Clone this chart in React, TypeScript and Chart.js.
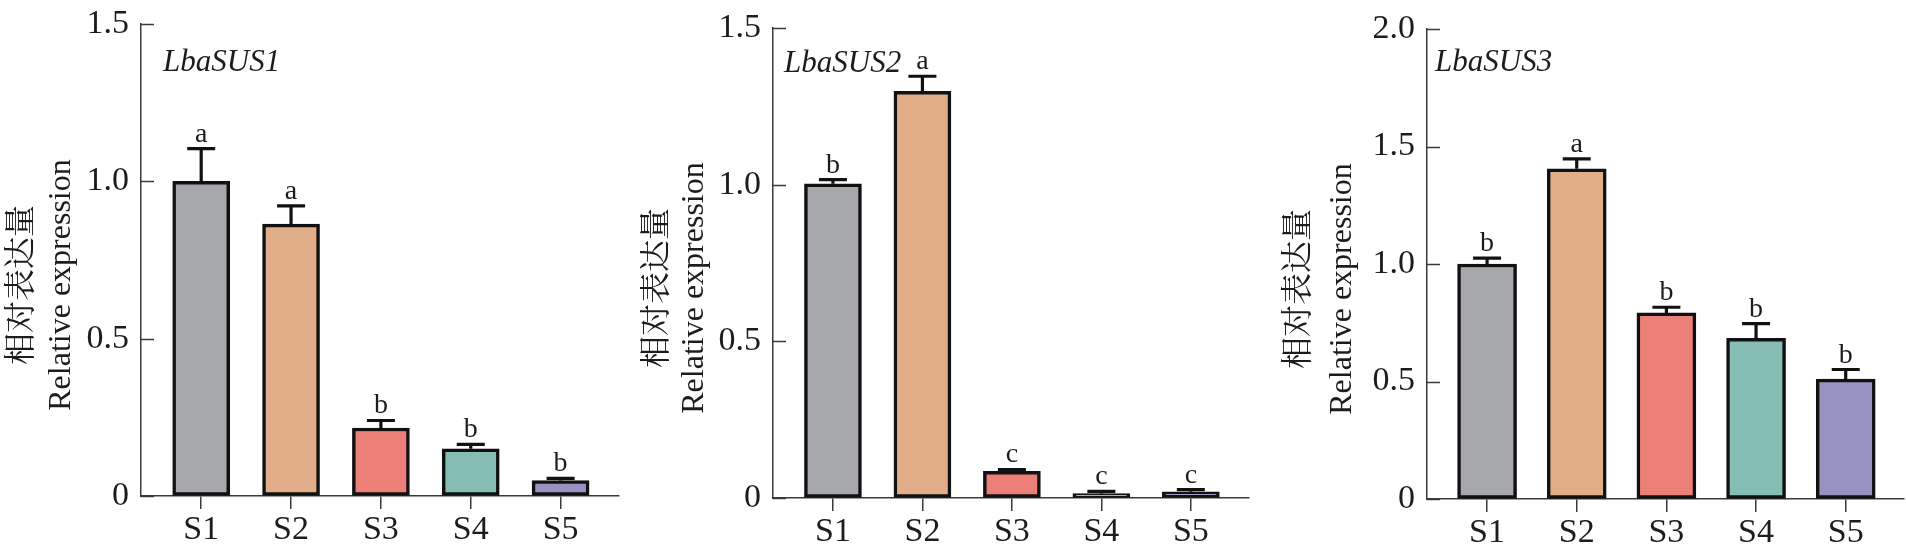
import { useEffect, useRef } from 'react';
import Chart from 'chart.js/auto';

// sample groups on the x axis
const CATEGORIES: string[] = ['S1', 'S2', 'S3', 'S4', 'S5'];
const BAR_COLORS: string[] = ['#a7a8ac', '#e2ae8a', '#ec8079', '#85bdb5', '#9892c1'];

// LbaSUS1
const SUS1_MEAN: number[] = [1.0, 0.864, 0.216, 0.15, 0.049];
const SUS1_ERR: number[] = [0.104, 0.058, 0.024, 0.014, 0.007];
const SUS1_SIG: string[] = ['a', 'a', 'b', 'b', 'b'];
const SUS1_TICKS: number[] = [0, 0.5, 1.0, 1.5];

// LbaSUS2
const SUS2_MEAN: number[] = [1.003, 1.298, 0.085, 0.014, 0.02];
const SUS2_ERR: number[] = [0.013, 0.048, 0.006, 0.007, 0.007];
const SUS2_SIG: string[] = ['b', 'a', 'c', 'c', 'c'];
const SUS2_TICKS: number[] = [0, 0.5, 1.0, 1.5];

// LbaSUS3
const SUS3_MEAN: number[] = [1.0, 1.405, 0.792, 0.684, 0.51];
const SUS3_ERR: number[] = [0.025, 0.042, 0.024, 0.062, 0.041];
const SUS3_SIG: string[] = ['b', 'a', 'b', 'b', 'b'];
const SUS3_TICKS: number[] = [0, 0.5, 1.0, 1.5, 2.0];

const Y_TITLE_CN = '相对表达量';
const Y_TITLE_EN = 'Relative expression';

const INK = '#111111';
const AXIS = '#3a3a3a';
const TEXT = '#1c1c1c';
const SERIF = '"Liberation Serif", "Times New Roman", serif';
const CJK = '"Liberation Serif", "Noto Serif CJK SC", "Noto Sans CJK SC", serif';

// where each panel sits, in its own canvas coordinates
interface PanelBox {
  left: number;
  width: number;
  height: number;
  axisX: number;
  endX: number;
  top: number;
  zero: number;
  barW: number;
  titleX: number;
  titleY: number;
  cnX: number;
  enX: number;
  labelCy: number;
}

interface PanelProps {
  gene: string;
  means: number[];
  errs: number[];
  sig: string[];
  yTicks: number[];
  box: PanelBox;
}

function BarPanel({ gene, means, errs, sig, yTicks, box }: PanelProps) {
  const canvasRef = useRef<HTMLCanvasElement>(null);

  useEffect(() => {
    if (!canvasRef.current) return;

    // error bars, letters, inward y ticks, gene name and axis titles
    const decor = {
      id: 'decor',
      afterDraw(chart: Chart) {
        const { ctx, chartArea } = chart;
        const xs = chart.scales.x;
        const ys = chart.scales.y;
        ctx.save();

        ctx.strokeStyle = AXIS;
        ctx.lineWidth = 1.5;
        yTicks.forEach((v) => {
          const py = Math.round(ys.getPixelForValue(v)) + 0.5;
          ctx.beginPath();
          ctx.moveTo(chartArea.left, py);
          ctx.lineTo(chartArea.left + 13, py);
          ctx.stroke();
        });

        ctx.strokeStyle = INK;
        ctx.lineWidth = 3.2;
        ctx.fillStyle = TEXT;
        ctx.font = `28px ${SERIF}`;
        ctx.textAlign = 'center';
        ctx.textBaseline = 'alphabetic';
        means.forEach((m, i) => {
          const px = xs.getPixelForValue(i);
          const top = ys.getPixelForValue(m);
          const hi = ys.getPixelForValue(m + errs[i]);
          ctx.beginPath();
          ctx.moveTo(px, top);
          ctx.lineTo(px, hi);
          ctx.moveTo(px - 14, hi);
          ctx.lineTo(px + 14, hi);
          ctx.stroke();
          ctx.fillText(sig[i], px, hi - 7);
        });

        ctx.font = `italic 31px ${SERIF}`;
        ctx.textAlign = 'left';
        ctx.fillText(gene, box.titleX, box.titleY);

        ctx.textAlign = 'center';
        ctx.textBaseline = 'middle';
        ctx.save();
        ctx.translate(box.cnX, box.labelCy);
        ctx.rotate(-Math.PI / 2);
        ctx.font = `32px ${CJK}`;
        ctx.fillText(Y_TITLE_CN, 0, 0);
        ctx.restore();
        ctx.save();
        ctx.translate(box.enX, box.labelCy);
        ctx.rotate(-Math.PI / 2);
        ctx.font = `32px ${SERIF}`;
        ctx.fillText(Y_TITLE_EN, 0, 0);
        ctx.restore();

        ctx.restore();
      },
    };

    const chart = new Chart(canvasRef.current, {
      type: 'bar',
      data: {
        datasets: [
          {
            data: means.map((m, i) => ({ x: i, y: m })),
            backgroundColor: BAR_COLORS,
            borderColor: INK,
            borderWidth: 3.5,
            borderSkipped: false,
            barThickness: box.barW,
          },
        ],
      },
      options: {
        animation: false,
        responsive: false,
        layout: { padding: { top: box.top, right: box.width - box.endX, bottom: 0, left: 0 } },
        plugins: { legend: { display: false }, tooltip: { enabled: false } },
        scales: {
          x: {
            type: 'linear',
            offset: false,
            min: -0.67,
            max: 4.65,
            afterBuildTicks: (s: any) => {
              s.ticks = CATEGORIES.map((_, i) => ({ value: i }));
            },
            afterFit: (s: any) => {
              s.height = box.height - box.zero;
              s.paddingLeft = 0;
              s.paddingRight = 0;
            },
            ticks: {
              callback: (v: any) => CATEGORIES[v as number] ?? '',
              font: { family: SERIF, size: 34 },
              color: TEXT,
              padding: 1,
              autoSkip: false,
              maxRotation: 0,
            },
            grid: { offset: false, drawOnChartArea: false, drawTicks: true, tickLength: 13, color: AXIS, lineWidth: 1.5 },
            border: { display: true, color: AXIS, width: 1.5 },
          },
          y: {
            min: 0,
            max: yTicks[yTicks.length - 1],
            afterBuildTicks: (s: any) => {
              s.ticks = yTicks.map((v) => ({ value: v }));
            },
            afterFit: (s: any) => {
              s.width = box.axisX;
              s.paddingTop = 0;
              s.paddingBottom = 0;
            },
            ticks: {
              callback: (v: any) => (v === 0 ? '0' : Number(v).toFixed(1)),
              font: { family: SERIF, size: 34 },
              color: TEXT,
              padding: 12,
            },
            grid: { drawOnChartArea: false, drawTicks: false },
            border: { display: true, color: AXIS, width: 1.5 },
          },
        },
      },
      plugins: [decor],
    });

    return () => {
      chart.destroy();
    };
  }, [gene, means, errs, sig, yTicks, box]);

  return (
    <canvas
      ref={canvasRef}
      width={box.width}
      height={box.height}
      style={{ position: 'absolute', left: box.left, top: 0, width: box.width, height: box.height }}
    />
  );
}

const BOX1: PanelBox = {
  left: 0, width: 640, height: 557, axisX: 141, endX: 619, top: 24, zero: 496, barW: 57,
  titleX: 163, titleY: 71, cnX: 23, enX: 62, labelCy: 285,
};
const BOX2: PanelBox = {
  left: 640, width: 640, height: 557, axisX: 133, endX: 609, top: 28, zero: 498, barW: 57,
  titleX: 144, titleY: 72, cnX: 18, enX: 55, labelCy: 288,
};
const BOX3: PanelBox = {
  left: 1280, width: 626, height: 557, axisX: 147, endX: 624, top: 29, zero: 499, barW: 59,
  titleX: 155, titleY: 71, cnX: 20, enX: 63, labelCy: 289,
};

export default function App() {
  return (
    <div style={{ position: 'fixed', left: 0, top: 0, width: 1906, height: 557, background: '#fff' }}>
      <BarPanel gene="LbaSUS1" means={SUS1_MEAN} errs={SUS1_ERR} sig={SUS1_SIG} yTicks={SUS1_TICKS} box={BOX1} />
      <BarPanel gene="LbaSUS2" means={SUS2_MEAN} errs={SUS2_ERR} sig={SUS2_SIG} yTicks={SUS2_TICKS} box={BOX2} />
      <BarPanel gene="LbaSUS3" means={SUS3_MEAN} errs={SUS3_ERR} sig={SUS3_SIG} yTicks={SUS3_TICKS} box={BOX3} />
    </div>
  );
}
